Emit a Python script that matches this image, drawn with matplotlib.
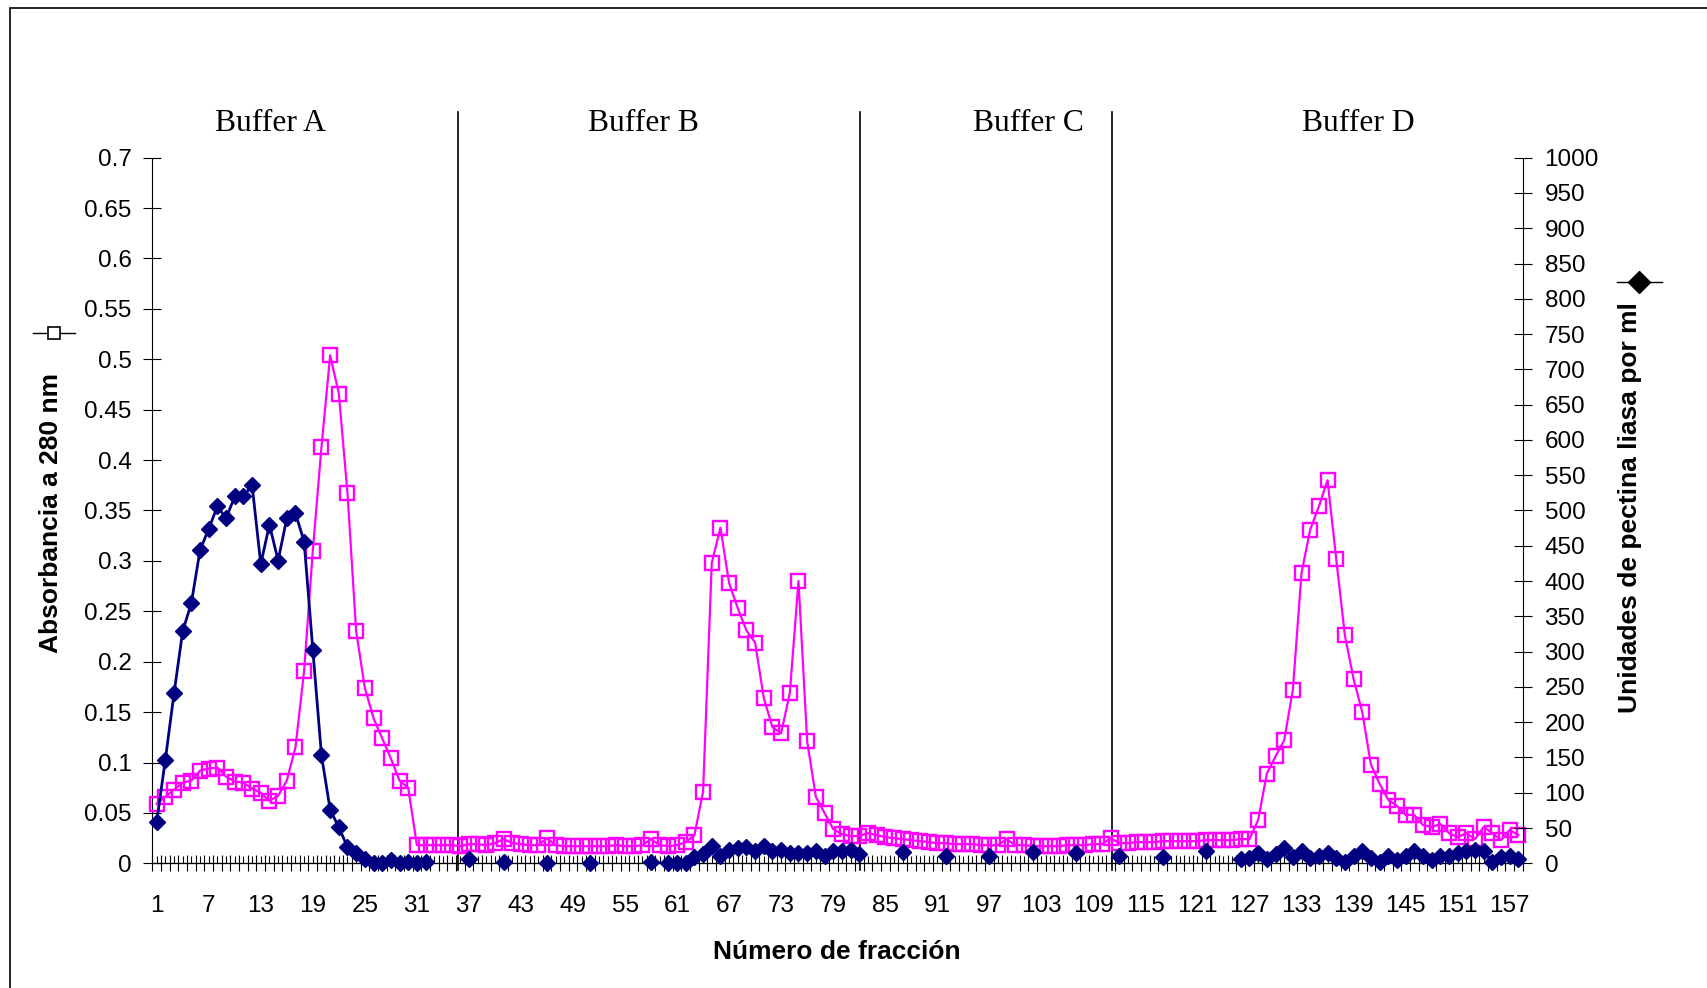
import numpy as np
import matplotlib
matplotlib.use("Agg")
import matplotlib.pyplot as plt
from matplotlib.transforms import blended_transform_factory
from matplotlib.lines import Line2D
from matplotlib.patches import Rectangle
from matplotlib.ticker import FuncFormatter

plt.rcParams['font.family'] = ['Liberation Sans', 'DejaVu Sans']

nan = np.nan

# fracciones 1..158
fracciones = np.arange(1, 159)

# absorbancia a 280 nm (eje izquierdo)
absorbancia = [
    0.059, 0.066, 0.073, 0.080, 0.082, 0.092, 0.094, 0.095, 0.086, 0.081,
    0.080, 0.074, 0.070, 0.062, 0.067, 0.082, 0.115, 0.191, 0.310, 0.413,
    0.504, 0.466, 0.367, 0.230, 0.174, 0.144, 0.124, 0.104, 0.082, 0.075,
    0.018, 0.018, 0.018, 0.018, 0.018, 0.017, 0.019, 0.019, 0.018, 0.020,
    0.024, 0.020, 0.019, 0.018, 0.018, 0.025, 0.018, 0.017, 0.017, 0.017,
    0.017, 0.017, 0.017, 0.018, 0.017, 0.017, 0.018, 0.024, 0.018, 0.017,
    0.018, 0.021, 0.028, 0.071, 0.298, 0.333, 0.278, 0.253, 0.231, 0.219,
    0.164, 0.135, 0.129, 0.169, 0.280, 0.121, 0.066, 0.050, 0.034, 0.029,
    0.027, 0.027, 0.030, 0.028, 0.026, 0.025, 0.024, 0.023, 0.022, 0.021,
    0.020, 0.020, 0.019, 0.019, 0.019, 0.018, 0.018, 0.018, 0.024, 0.018,
    0.018, 0.017, 0.017, 0.017, 0.017, 0.018, 0.018, 0.018, 0.019, 0.019,
    0.025, 0.020, 0.020, 0.021, 0.021, 0.021, 0.022, 0.022, 0.022, 0.022,
    0.022, 0.023, 0.023, 0.023, 0.023, 0.024, 0.024, 0.043, 0.089, 0.106,
    0.122, 0.172, 0.288, 0.331, 0.354, 0.380, 0.302, 0.226, 0.183, 0.150,
    0.098, 0.079, 0.063, 0.057, 0.048, 0.048, 0.038, 0.036, 0.039, 0.030,
    0.026, 0.030, 0.024, 0.036, 0.030, 0.023, 0.033, 0.028,
]

# unidades de pectina liasa por ml (eje derecho), nan = no medido
unidades = [
    59, 147, 241, 329, 369, 444, 474, 506, 489, 520,
    520, 536, 424, 480, 429, 489, 496, 456, 303, 153,
    76, 51, 23, 14, 6, 0, 1, 5, 0, 2,
    0, 2, nan, nan, nan, nan, 6, nan, nan, nan,
    2, nan, nan, nan, nan, 1, nan, nan, nan, nan,
    0, nan, nan, nan, nan, nan, nan, 2, nan, 0,
    0, 0, 9, 13, 24, 11, 19, 21, 23, 17,
    24, 17, 19, 14, 14, 14, 17, 10, 17, 17,
    19, 13, nan, nan, nan, nan, 16, nan, nan, nan,
    nan, 11, nan, nan, nan, nan, 11, nan, nan, nan,
    nan, 16, nan, nan, nan, nan, 14, nan, nan, nan,
    nan, 10, nan, nan, nan, nan, 9, nan, nan, nan,
    nan, 17, nan, nan, nan, 6, 7, 14, 6, 13,
    21, 9, 17, 7, 11, 14, 7, 2, 11, 17,
    7, 2, 11, 4, 11, 17, 11, 4, 11, 11,
    14, 17, 19, 17, 2, 9, 11, 6,
]

buffers = ['Buffer A', 'Buffer B', 'Buffer C', 'Buffer D']
pos_buffers = [14.1, 57.1, 101.5, 139.5]
divisiones = [35.7, 82.05, 111.1]

fig = plt.figure(figsize=(17.08, 9.88), dpi=100)
ax = fig.add_axes([0.0892, 0.1262, 0.8023, 0.7142])
ax2 = ax.twinx()

ax.plot(fracciones, absorbancia, color='#FF00FF', lw=1.6, marker='s', ms=9.5,
        mfc='none', mec='#FF00FF', mew=1.7, clip_on=False, zorder=3)
ax2.plot(fracciones, unidades, color='#000080', lw=2.0, marker='D', ms=7.8,
         mfc='#000080', mec='#000080', clip_on=False, zorder=3)

ax.set_xlim(0.5, 158.5)
ax.set_ylim(0, 0.7)
ax2.set_ylim(0, 1000)

# ejes y
ax.set_yticks(np.arange(0, 0.7001, 0.05))
ax.yaxis.set_major_formatter(FuncFormatter(lambda v, p: f'{round(v, 2):g}'))
ax2.set_yticks(np.arange(0, 1001, 50))
ax.tick_params(axis='y', direction='inout', length=13.5, width=0.8, pad=8, labelsize=17.5)
ax2.tick_params(axis='y', direction='inout', length=13.5, width=0.8, pad=9, labelsize=17.5)

# eje x (categorias)
ax.set_xticks(np.arange(1, 159, 6))
ax.set_xticks(fracciones, minor=True)
ax.tick_params(axis='x', which='both', direction='in', length=5, width=0.8)
ax.tick_params(axis='x', which='major', pad=22.5, labelsize=17.5)
sec = ax.secondary_xaxis('bottom')
sec.set_xticks(np.arange(0.5, 159, 1))
sec.set_xticklabels([])
sec.tick_params(direction='inout', length=11.5, width=0.8)

for a in (ax, ax2):
    a.spines['top'].set_visible(False)
ax.spines['right'].set_visible(False)
ax2.spines['left'].set_visible(False)

ax.set_xlabel('Número de fracción', fontsize=19, fontweight='bold')
ax.xaxis.set_label_coords(0.4993, -0.126)
ax.xaxis.label.set_verticalalignment('center')
ax.set_ylabel('Absorbancia a 280 nm', fontsize=19, fontweight='bold')
ax.yaxis.set_label_coords(-0.0737, 0.497)
ax.yaxis.label.set_verticalalignment('center')
ax2.set_ylabel('Unidades de pectina liasa por ml', fontsize=19, fontweight='bold')
ax2.yaxis.set_label_coords(1.0785, 0.5035)
ax2.yaxis.label.set_verticalalignment('center')
ax2.yaxis.label.set_rotation(90)

# lineas divisorias y nombres de buffer
trans = blended_transform_factory(ax.transData, ax.transAxes)
for xd in divisiones:
    ax.plot([xd, xd], [-0.01, 1.065], transform=trans, color='black', lw=1.2, clip_on=False)
for nombre, xb in zip(buffers, pos_buffers):
    ax.text(xb, 1.048, nombre, transform=trans, ha='center', va='center',
            fontsize=22.8, family='Liberation Serif')

# claves de serie junto a los titulos de eje
ax.add_line(Line2D([-0.0871, -0.0564], [0.751, 0.751], transform=ax.transAxes,
                   color='black', lw=1, clip_on=False))
ax.add_line(Line2D([-0.0715], [0.751], transform=ax.transAxes, marker='s', ms=8,
                   mfc='white', mec='black', mew=1.2, clip_on=False))
ax.add_line(Line2D([1.0688, 1.1016], [0.8245, 0.8245], transform=ax.transAxes,
                   color='black', lw=1, clip_on=False))
ax.add_line(Line2D([1.0849], [0.8245], transform=ax.transAxes, marker='D', ms=11,
                   mfc='black', mec='black', clip_on=False))

# marco del area del grafico
fig.patches.append(Rectangle((10.5 / 1708, -0.05), 1.1, 1 - 8 / 988 + 0.05,
                             transform=fig.transFigure, fill=False, ec='black', lw=1.2))

fig.savefig('out.png', dpi=100)
